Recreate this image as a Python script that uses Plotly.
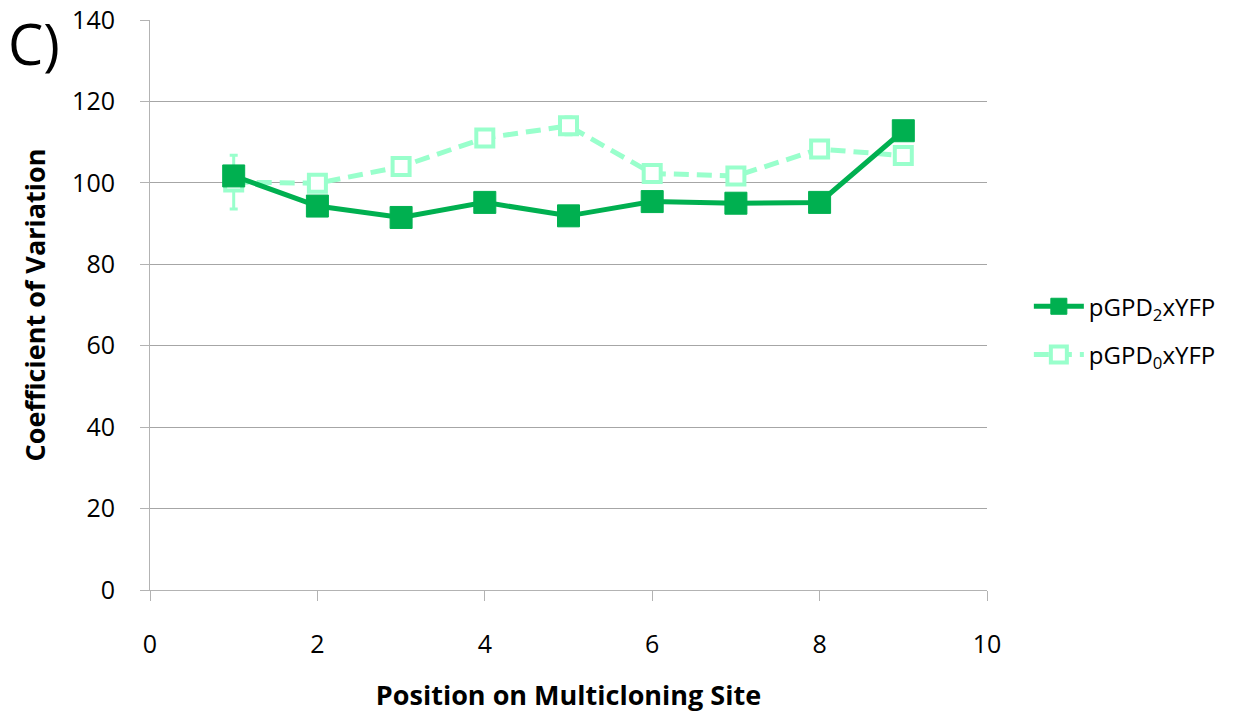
import plotly.graph_objects as go

positions = [1, 2, 3, 4, 5, 6, 7, 8, 9]
cv_gpd2 = [101.7, 94.3, 91.5, 95.2, 91.9, 95.4, 95.0, 95.2, 112.8]
cv_gpd0 = [100.2, 99.9, 104.0, 111.0, 114.0, 102.3, 101.7, 108.3, 106.7]
err_gpd2 = [1.0, 0.8, 0.8, 0.8, 0.8, 0.8, 0.8, 0.8, 1.0]
err_gpd0 = [6.6, 1.0, 1.5, 1.5, 2.2, 1.0, 1.0, 1.5, 1.0]

DARK = "#00B050"
LIGHT = "#99FFCC"
AXIS = "#B3B3B3"
FONT = "Open Sans, Liberation Sans, sans-serif"

fig = go.Figure()

fig.add_trace(go.Scatter(
    x=positions, y=cv_gpd0, name="pGPD<sub>0</sub>xYFP",
    mode="lines+markers", legendgroup="g0",
    line=dict(color=LIGHT, width=5, dash="15px,8px"),
    marker=dict(symbol="square", size=17, color="white",
                line=dict(color=LIGHT, width=4)),
    error_y=dict(type="data", array=err_gpd0, color=LIGHT, thickness=3, width=4),
    legendrank=2,
))

fig.add_trace(go.Scatter(
    x=positions, y=cv_gpd2, name="pGPD<sub>2</sub>xYFP",
    mode="lines+markers", legendgroup="g2",
    line=dict(color=DARK, width=5),
    marker=dict(symbol="square", size=22, color=DARK,
                line=dict(color=DARK, width=1)),
    error_y=dict(type="data", array=err_gpd2, color=DARK, thickness=3, width=4),
    legendrank=1,
))

fig.update_layout(
    width=1256, height=713,
    margin=dict(l=150, r=269, t=20, b=123),
    paper_bgcolor="white", plot_bgcolor="white",
    font=dict(family=FONT, size=25, color="#000000"),
    showlegend=True,
    legend=dict(x=1.05, y=0.455, xanchor="left", yanchor="middle",
                font=dict(size=24), itemwidth=50, tracegroupgap=14,
                bgcolor="rgba(0,0,0,0)"),
    xaxis=dict(
        range=[0, 10], tickmode="linear", tick0=0, dtick=2,
        showgrid=False, zeroline=False, automargin=False,
        showline=True, linecolor=AXIS, linewidth=1,
        ticks="outside", ticklen=10, tickcolor=AXIS,
        ticklabelstandoff=22,
        tickfont=dict(size=25),
        title=dict(text="<b>Position on Multicloning Site</b>",
                   font=dict(size=27), standoff=30),
    ),
    yaxis=dict(
        range=[0, 140], tickmode="linear", tick0=0, dtick=20,
        showgrid=True, gridcolor="#A6A6A6", gridwidth=1, zeroline=False,
        automargin=False,
        showline=True, linecolor=AXIS, linewidth=1,
        ticks="outside", ticklen=9, tickcolor=AXIS,
        ticklabelstandoff=20,
        tickfont=dict(size=25),
        title=dict(text="<b>Coefficient of Variation</b>",
                   font=dict(size=27), standoff=18),
    ),
    annotations=[dict(
        text="C)", x=-0.172, y=1.03, xref="paper", yref="paper",
        xanchor="left", yanchor="top", showarrow=False,
        font=dict(size=56, family=FONT),
    )],
)

fig.write_html("out.html")
